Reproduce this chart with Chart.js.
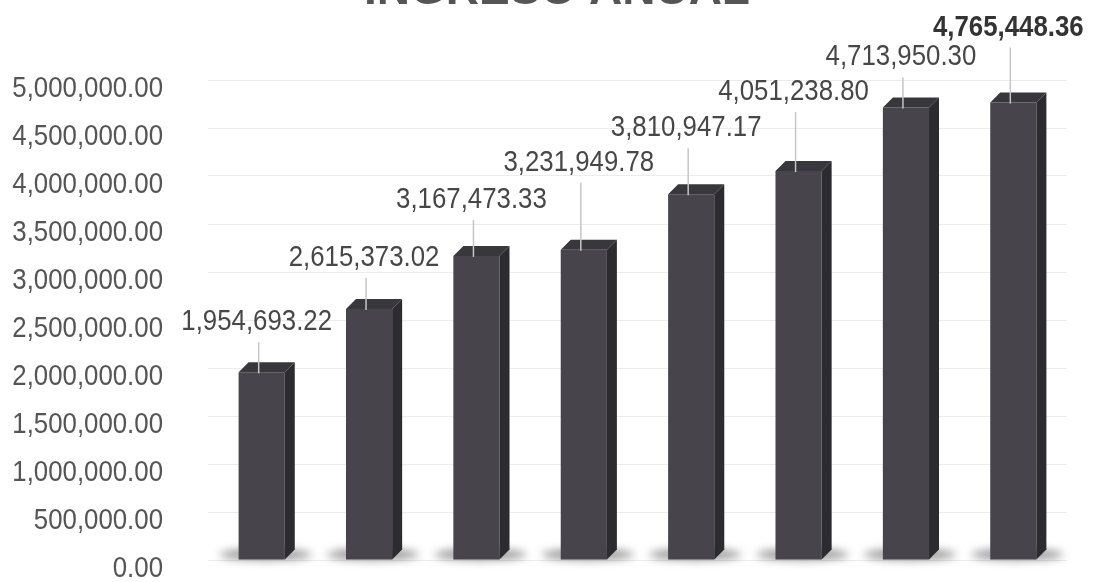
<!DOCTYPE html>
<html>
<head>
<meta charset="utf-8">
<script src="https://cdn.jsdelivr.net/npm/chart.js@4/dist/chart.umd.min.js"></script>
<style>
	html, body { margin: 0; padding: 0; background: #fff; overflow: hidden; }
	#wrap { position: absolute; left: 0; top: -32px; width: 1099px; height: 614px; }
</style>
</head>
<body>
<div id="wrap"><canvas id="income-chart" width="1099" height="614"></canvas></div>
<script>
// Ingreso anual por periodo (las categorías no aparecen en la imagen)
const periods = ['1', '2', '3', '4', '5', '6', '7', '8'];
const income = [1954693.22, 2615373.02, 3167473.33, 3231949.78, 3810947.17, 4051238.80, 4713950.30, 4765448.36];
const yTicks = [0, 500000, 1000000, 1500000, 2000000, 2500000, 3000000, 3500000, 4000000, 4500000, 5000000];

// how far each value label sits above its bar (px), as placed in the original
const labelLift = [50, 51, 56, 87, 66, 79, 50, 75];

const FONT = '"Liberation Sans", Arial, sans-serif';
const NARROW = 0.89; // no Arial Narrow here, squeeze Liberation Sans instead
const DEPTH = 10;
const TICK_GAP = 45;

const money = v => v.toLocaleString('en-US', { minimumFractionDigits: 2, maximumFractionDigits: 2 });

// squeeze the y tick labels horizontally around their right edge
const narrowTicks = {
	id: 'narrowTicks',
	afterUpdate(chart) {
		const scale = chart.scales.y;
		if (scale._narrowed) return;
		const orig = scale.drawLabels.bind(scale);
		// labels hang out past the padded left edge, don't clip them
		scale._computeLabelArea = () => undefined;
		scale.drawLabels = function (area) {
			const ctx = this.ctx;
			const ax = this.right - TICK_GAP;
			ctx.save();
			ctx.translate(ax, 0);
			ctx.scale(NARROW, 1);
			ctx.translate(-ax, 0);
			orig(area);
			ctx.restore();
		};
		scale._narrowed = true;
	}
};

// fake 3D: floor shadow behind, top and side faces on top of the flat bars
const bars3d = {
	id: 'bars3d',
	beforeDatasetsDraw(chart) {
		const ctx = chart.ctx;
		const meta = chart.getDatasetMeta(0);
		ctx.save();
		ctx.filter = 'blur(4px)';
		ctx.fillStyle = 'rgba(60, 60, 60, 0.5)';
		meta.data.forEach(bar => {
			ctx.beginPath();
			ctx.ellipse(bar.x + 4, bar.base - 5, bar.width, 6, 0, 0, Math.PI * 2);
			ctx.fill();
		});
		ctx.restore();
	},
	afterDatasetsDraw(chart) {
		const ctx = chart.ctx;
		const meta = chart.getDatasetMeta(0);
		ctx.save();
		meta.data.forEach(bar => {
			const l = bar.x - bar.width / 2;
			const r = bar.x + bar.width / 2;
			const t = bar.y;
			const b = bar.base;
			// side
			ctx.fillStyle = '#2c2b2f';
			ctx.beginPath();
			ctx.moveTo(r, t);
			ctx.lineTo(r + DEPTH, t - DEPTH);
			ctx.lineTo(r + DEPTH, b - DEPTH);
			ctx.lineTo(r, b);
			ctx.closePath();
			ctx.fill();
			// top
			ctx.fillStyle = '#38373b';
			ctx.beginPath();
			ctx.moveTo(l, t);
			ctx.lineTo(l + DEPTH, t - DEPTH);
			ctx.lineTo(r + DEPTH, t - DEPTH);
			ctx.lineTo(r, t);
			ctx.closePath();
			ctx.fill();
		});
		ctx.restore();
	}
};

const valueLabels = {
	id: 'valueLabels',
	afterDatasetsDraw(chart) {
		const ctx = chart.ctx;
		const meta = chart.getDatasetMeta(0);
		const last = income.length - 1;
		meta.data.forEach((bar, i) => {
			const ty = bar.y - labelLift[i];
			ctx.save();
			// leader line
			ctx.strokeStyle = '#c6c6c6';
			ctx.lineWidth = 1.5;
			ctx.beginPath();
			ctx.moveTo(bar.x - 3, ty + 20);
			ctx.lineTo(bar.x - 3, bar.y + 1);
			ctx.stroke();
			ctx.translate(bar.x - 5, ty);
			ctx.scale(NARROW, 1);
			ctx.textAlign = 'center';
			ctx.textBaseline = 'middle';
			ctx.fillStyle = i === last ? '#333' : '#474747';
			ctx.font = (i === last ? 'bold ' : '') + '29px ' + FONT;
			ctx.fillText(money(income[i]), 0, 0);
			ctx.restore();
		});
	}
};

new Chart(document.getElementById('income-chart'), {
	type: 'bar',
	data: {
		labels: periods,
		datasets: [{
			label: 'Ingreso anual',
			data: income,
			backgroundColor: '#47454b',
			borderWidth: 0,
			barPercentage: 0.43,
			categoryPercentage: 1
		}]
	},
	options: {
		responsive: false,
		animation: false,
		layout: { padding: { left: 47, right: 32, top: 0, bottom: 22 } },
		plugins: {
			legend: { display: false },
			tooltip: { enabled: false },
			title: {
				display: true,
				text: 'INGRESO ANUAL',
				color: '#555',
				font: { family: FONT, size: 46, weight: 'bold', lineHeight: 1.2 },
				padding: { top: -4, bottom: 60.8 }
			}
		},
		scales: {
			x: { display: false },
			y: {
				min: 0,
				max: 5000000,
				afterFit: scale => { scale.width = 161; },
				afterBuildTicks: scale => { scale.ticks = yTicks.map(v => ({ value: v })); },
				border: { display: false },
				grid: { color: '#ececec', lineWidth: 1, drawTicks: true, tickLength: TICK_GAP, tickColor: 'rgba(0,0,0,0)' },
				ticks: {
					padding: 0,
					labelOffset: 9,
					color: '#555',
					font: { family: FONT, size: 29 },
					callback: v => money(v)
				}
			}
		}
	},
	plugins: [narrowTicks, bars3d, valueLabels]
});
</script>
</body>
</html>
